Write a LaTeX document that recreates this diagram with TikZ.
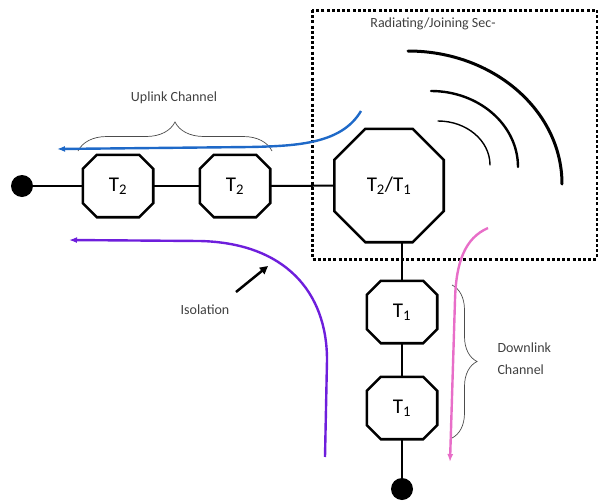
\documentclass[tikz,border=0pt]{standalone}
\usepackage{fontspec}
\setmainfont{Carlito}
\usetikzlibrary{decorations.pathreplacing,arrows.meta}

% octagon outline drawn over a (plain) rectangular node: #1 node, #2 chamfer
\newcommand\octoutline[2]{%
  \draw[octline] ([xshift=#2]#1.north west) -- ([xshift=-#2]#1.north east)
    -- ([yshift=-#2]#1.north east) -- ([yshift=#2]#1.south east)
    -- ([xshift=-#2]#1.south east) -- ([xshift=#2]#1.south west)
    -- ([yshift=#2]#1.south west) -- ([yshift=-#2]#1.north west) -- cycle;}

\begin{document}
\begin{tikzpicture}[x=1pt,y=-1pt,
  octbox/.style={draw=none, minimum width=70pt, minimum height=62pt, inner sep=0pt,
    font=\fontsize{21}{25}\selectfont},
  bigoct/.style={octbox, minimum width=109pt, minimum height=113pt},
  octline/.style={line width=2.6pt, line join=miter},
  wire/.style={line width=2pt},
  endpt/.style={circle, fill=black, minimum size=22pt, inner sep=0pt},
  lbl/.style={font=\fontsize{14}{22}\selectfont, text=black!75},
  brc/.style={decorate, draw=black!70, line width=0.7pt},
  wave/.style={line cap=round},
  flow/.style={line width=2.4pt, -{Latex[length=8pt,width=6pt]}}
]
\useasboundingbox (0,0) rectangle (598,501);

\definecolor{upblue}{RGB}{30,105,200}
\definecolor{isopurple}{RGB}{110,30,220}
\definecolor{downpink}{RGB}{232,110,200}

% radiating / joining section frame
\draw[line width=3pt, dash pattern=on 3pt off 2.2pt] (312,10) rectangle (597,259);
\node[lbl] (radlbl) at (433,24) {Radiating/Joining Sec-};

% radiated waves
\draw[wave, line width=3pt] (408,51) arc[start angle=90, end angle=0, x radius=154pt, y radius=133pt];
\draw[wave, line width=2.4pt] (431,91) arc[start angle=90, end angle=0, x radius=87pt, y radius=76pt];
\draw[wave, line width=1.4pt] (438,121) arc[start angle=90, end angle=0, x radius=52pt, y radius=44pt];

% filter stages
\node[endpt] (dotL) at (22,186) {};
\node[octbox] (u1) at (118,186) {T\textsubscript{2}};
\node[octbox] (u2) at (235,186) {T\textsubscript{2}};
\node[bigoct] (c) at (389,185.5) {T\textsubscript{2}/T\textsubscript{1}};
\node[octbox] (d1) at (402,312) {T\textsubscript{1}};
\node[octbox] (d2) at (402,408) {T\textsubscript{1}};
\node[endpt] (dotB) at (402,489) {};

\octoutline{u1}{14pt}
\octoutline{u2}{14pt}
\octoutline{c}{31pt}
\octoutline{d1}{14pt}
\octoutline{d2}{14pt}

\draw[wire] (dotL) -- (u1);
\draw[wire] (u1) -- (u2);
\draw[wire] (u2) -- (c);
\draw[wire] (c.south -| d1.north) -- (d1.north);
\draw[wire] (d1) -- (d2);
\draw[wire] (d2) -- (dotB);

% uplink channel
\coordinate (ub0) at (78,151);
\coordinate (ub1) at (272,151);
\draw[brc, decoration={brace, amplitude=29pt}] (ub0) -- (ub1);
\node[lbl] (uplbl) at (174,98) {Uplink Channel};
\coordinate (blueS) at (361,111);
\coordinate (blueE) at (57,149);
\draw[flow, upblue] (blueS) .. controls (342,143) and (300,146) .. (250,147) -- (blueE);

% downlink channel
\coordinate (db0) at (452,285);
\coordinate (db1) at (452,438);
\draw[brc, decoration={brace, amplitude=25pt}] (db0) -- (db1);
\node[lbl, anchor=west, align=left] (dnlbl) at (494,359) {Downlink\\Channel};
\coordinate (pinkS) at (488,228);
\coordinate (pinkE) at (450,462);
\draw[flow, downpink] (pinkS) .. controls (465,238) and (456,262) .. (455,300) -- (pinkE);

% isolation path
\coordinate (purS) at (325,457);
\coordinate (purE) at (69,240);
\draw[flow, isopurple] (purS) -- (327,360) .. controls (327,292) and (285,243) .. (200,241) -- (purE);
\coordinate (isoS) at (236,292);
\coordinate (isoE) at (268,266);
\draw[line width=2.5pt, -{Triangle[length=8pt,width=8pt]}] (isoS) -- (isoE);
\node[lbl] (isolbl) at (205,310) {Isolation};
\end{tikzpicture}
\end{document}
